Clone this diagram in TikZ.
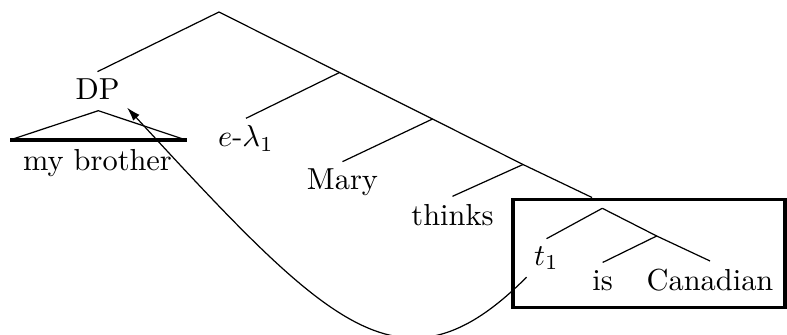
\documentclass[tikz,border=0pt]{standalone}
\usepackage{amsmath}
\usetikzlibrary{arrows.meta}

\begin{document}
\begin{tikzpicture}[x=0.329pt, y=-0.329pt, >={Latex[length=4.5pt,width=2.8pt]},
    leaf/.style={anchor=base, inner sep=2.3pt}]

\useasboundingbox (0,0) rectangle (787,335);

% ==== BRANCH POINTS ====
\coordinate (root) at (219,12);
\coordinate (b1) at (339.5,72.5);
\coordinate (b2) at (432.5,119);
\coordinate (b3) at (523,164.5);
\coordinate (spine) at (592,197.5);
\coordinate (inner) at (602.3,208.3);
\coordinate (b4) at (656.7,236);
\coordinate (apex) at (98.3,110.7);

% ==== LEAVES ====
\node[leaf] (dp) at (97.5,100) {DP};
\node[leaf] (mybrother) at (97.5,170) {my brother};
\node[leaf] (elam) at (246,147) {$e$-$\lambda_1$};
\node[leaf] (mary) at (342.5,190) {Mary};
\node[leaf] (thinks) at (452.5,225) {thinks};
\node[leaf] (t1) at (546.5,265) {$t_1$};
\node[leaf] (is) at (602.7,290) {is};
\node[leaf] (canadian) at (710,290) {Canadian};

% ==== EDGES ====
\draw (root) -- (dp.north);
\draw (root) -- (b1) -- (b2) -- (b3) -- (spine);
\draw (b1) -- (elam.north);
\draw (b2) -- (mary.north);
\draw (b3) -- (thinks.north);
\draw (inner) -- (t1.north);
\draw (inner) -- (b4);
\draw (b4) -- (is.north);
\draw (b4) -- (canadian.north);

% ==== TRIANGLE UNDER DP ====
\draw (13,139) -- (apex) -- (183,139);
\draw[line width=1pt] (10,140) -- (187,140);

% ==== BOX ====
\draw[line width=1pt] (513,199.3) rectangle (785,307.7);

% ==== MOVEMENT ====
\draw[->] (t1.south west) .. controls (402,402) and (330,328) .. (dp.south east);

\end{tikzpicture}
\end{document}
